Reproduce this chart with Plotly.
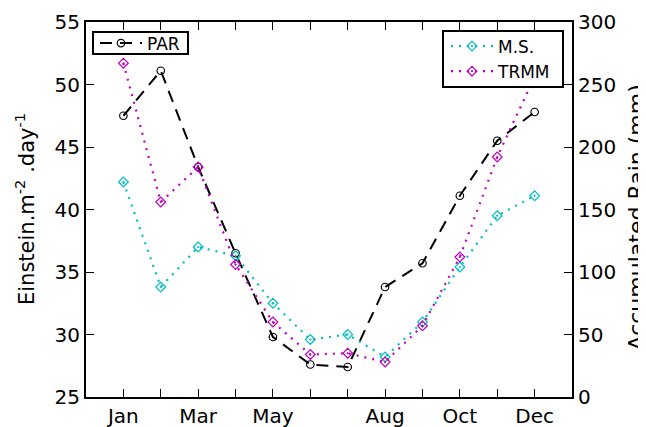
import plotly.graph_objects as go

months = [1, 2, 3, 4, 5, 6, 7, 8, 9, 10, 11, 12]
month_labels = ["Jan", "", "Mar", "", "May", "", "", "Aug", "", "Oct", "", "Dec"]
par = [47.5, 51.1, 43.4, 36.5, 29.8, 27.6, 27.4, 33.8, 35.7, 41.1, 45.5, 47.8]
ms = [172, 88, 120, 113, 75, 46, 50, 32, 60, 104, 145, 161]
trmm = [267, 156, 184, 106, 60, 34, 35, 28, 57, 112, 192, 256]

FONT = "DejaVu Sans"
CYAN = "#00BFBF"
MAGENTA = "#BF00BF"

fig = go.Figure()
fig.add_trace(go.Scatter(
    x=months, y=par, name="PAR", mode="lines+markers", showlegend=True,
    line=dict(color="black", width=2, dash="12px,8px"),
    marker=dict(symbol="circle-open", size=7.5, color="black", line=dict(width=1.2)),
    legend="legend", yaxis="y"))
fig.add_trace(go.Scatter(
    x=months, y=ms, name="M.S.", mode="lines+markers", showlegend=True,
    line=dict(color=CYAN, width=2.2, dash="2px,6px"),
    marker=dict(symbol="diamond-open-dot", size=7.5, color=CYAN, line=dict(width=1.2)),
    legend="legend2", yaxis="y2"))
fig.add_trace(go.Scatter(
    x=months, y=trmm, name="TRMM", mode="lines+markers", showlegend=True,
    line=dict(color=MAGENTA, width=2.2, dash="2px,6px"),
    marker=dict(symbol="diamond-open-dot", size=7.5, color=MAGENTA, line=dict(width=1.2)),
    legend="legend2", yaxis="y2"))

axis_common = dict(showgrid=False, zeroline=False, showline=True, linecolor="black",
                   linewidth=2, ticks="inside", ticklen=8, tickwidth=1.2, tickcolor="black",
                   automargin=False,
                   tickfont=dict(family=FONT, size=20, color="black"))

# plot area in page pixels: x 86..572, y 22..397
PX0, PX1, PY0, PY1 = 86, 572, 22, 397


def px(x):
    return (x - PX0) / (PX1 - PX0)


def py(y):
    return 1 - (y - PY0) / (PY1 - PY0)


box_style = dict(type="rect", xref="paper", yref="paper", layer="above",
                 line=dict(color="black", width=2), fillcolor="white")

# page body has an 8px margin, so the figure is 8px smaller and shifted
W, H = 638, 419
fig.update_layout(
    width=W, height=H,
    showlegend=True,
    margin=dict(l=78, r=74, t=14, b=30, autoexpand=False),
    plot_bgcolor="white", paper_bgcolor="white",
    font=dict(family=FONT, color="black"),
    xaxis=dict(range=[0, 13], tickvals=months, ticktext=month_labels, mirror="ticks",
               **axis_common),
    yaxis=dict(range=[25, 55], tickvals=[25, 30, 35, 40, 45, 50, 55], mirror=True,
               **axis_common),
    yaxis2=dict(range=[0, 300], tickvals=[0, 50, 100, 150, 200, 250, 300], overlaying="y",
                side="right", **axis_common),
    shapes=[
        dict(x0=px(93), x1=px(188), y0=py(54), y1=py(32), **box_style),
        dict(x0=px(443), x1=px(563), y0=py(87), y1=py(31), **box_style),
    ],
    legend=dict(x=px(95), y=py(25.5), xanchor="left", yanchor="top",
                bgcolor="rgba(0,0,0,0)", borderwidth=0, itemwidth=42,
                font=dict(family=FONT, size=17)),
    legend2=dict(x=px(446), y=py(28.5), xanchor="left", yanchor="top",
                 bgcolor="rgba(0,0,0,0)", borderwidth=0, itemwidth=42,
                 font=dict(family=FONT, size=17)),
    annotations=[
        dict(text="Einstein.m<sup>-2</sup> .day<sup>-1</sup>", xref="paper", yref="paper",
             x=px(25), y=py(209), xanchor="center", yanchor="middle", textangle=-90,
             showarrow=False, font=dict(family=FONT, size=21, color="black")),
        dict(text="Accumulated Rain (mm)", xref="paper", yref="paper",
             x=px(636), y=py(217.5), xanchor="center", yanchor="middle", textangle=-90,
             showarrow=False, font=dict(family=FONT, size=22, color="black")),
    ],
)

fig.write_html("out.html")
